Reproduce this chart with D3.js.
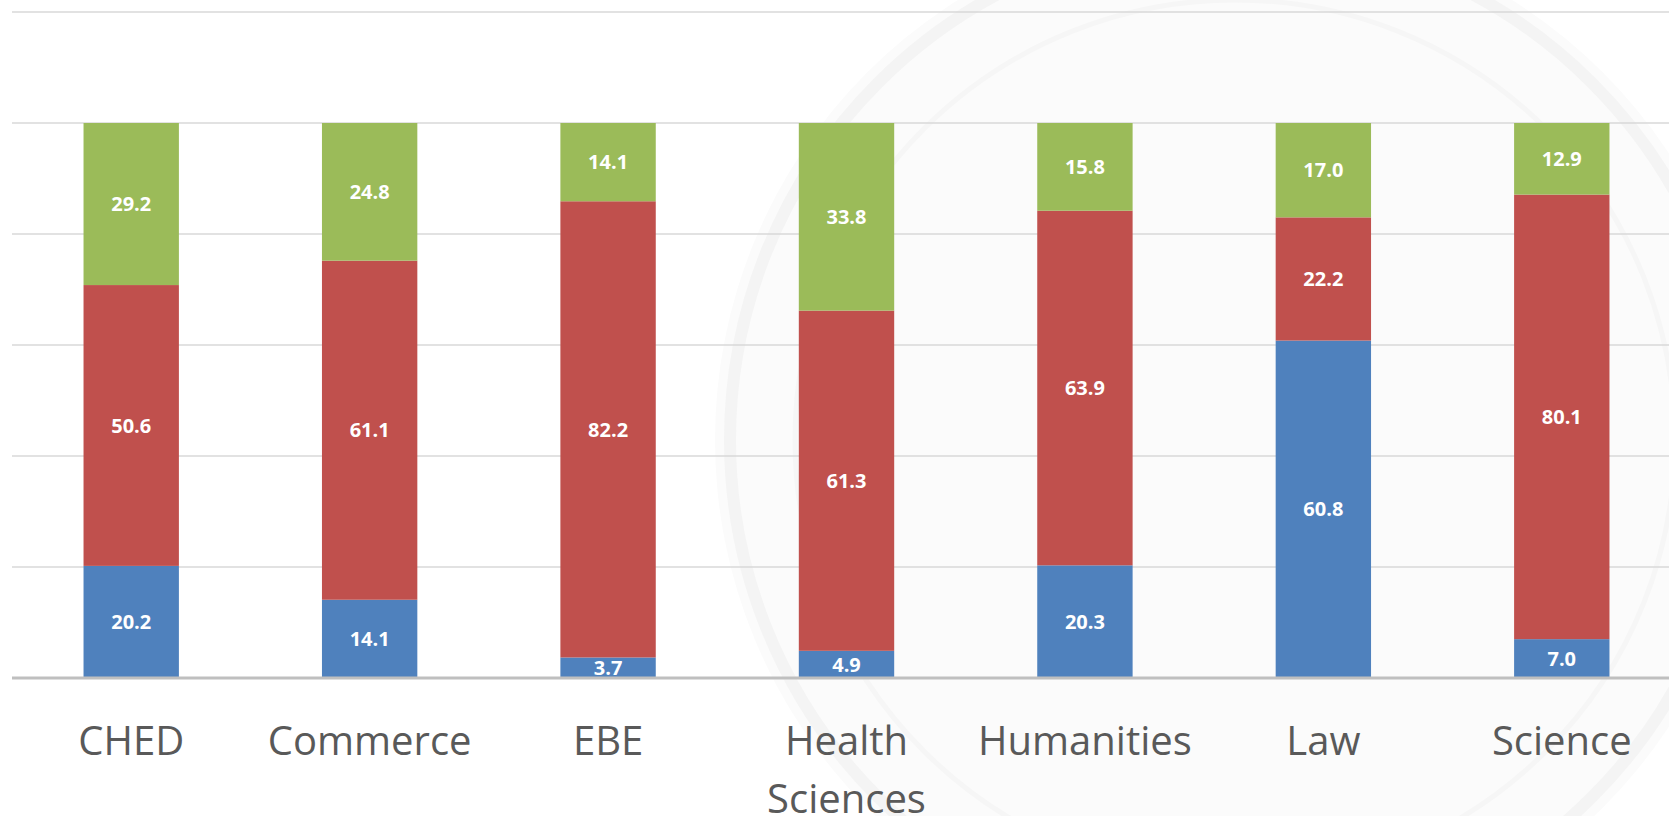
<!DOCTYPE html>
<html>
<head>
<meta charset="utf-8">
<script src="https://cdn.jsdelivr.net/npm/d3@7"></script>
<style>
  html, body { margin: 0; padding: 0; background: #fff; overflow: hidden; }
  svg { display: block; }
</style>
</head>
<body>
<div id="app"></div>
<script>
const faculties = ['CHED', 'Commerce', 'EBE', 'Health Sciences', 'Humanities', 'Law', 'Science']
const blueVals  = [20.2, 14.1, 3.7, 4.9, 20.3, 60.8, 7.0]
const redVals   = [50.6, 61.1, 82.2, 61.3, 63.9, 22.2, 80.1]
const greenVals = [29.2, 24.8, 14.1, 33.8, 15.8, 17.0, 12.9]
const gridTicks = [0, 20, 40, 60, 80, 100, 120]

const width = 1669, height = 816
const colors = ['#4f81bd', '#c0504d', '#9bbb59']

const svg = d3.select('#app').append('svg')
  .attr('width', width).attr('height', height)

// faint seal watermark behind the chart
const wm = svg.append('g').attr('transform', 'translate(1235,440)')
wm.append('circle').attr('r', 520).attr('fill', '#fbfbfb')
wm.append('circle').attr('r', 505).attr('fill', 'none').attr('stroke', '#f4f4f4').attr('stroke-width', 12)
wm.append('circle').attr('r', 440).attr('fill', 'none').attr('stroke', '#f6f6f6').attr('stroke-width', 5)

const rows = faculties.map((f, i) => ({ name: f, blue: blueVals[i], red: redVals[i], green: greenVals[i] }))
const stack = d3.stack().keys(['blue', 'red', 'green'])(rows)

const x = d3.scaleBand().domain(faculties).range([12, 1681]).paddingInner(0.6).paddingOuter(0.3)
const y = d3.scaleLinear().domain([0, 120]).range([678, 12])

// gridlines
svg.append('g').selectAll('line').data(gridTicks.slice(1)).join('line')
  .attr('x1', 12).attr('x2', width)
  .attr('y1', d => y(d)).attr('y2', d => y(d))
  .attr('stroke', '#d9d9d9').attr('stroke-width', 1.5)

// bars
const layers = svg.append('g').selectAll('g').data(stack).join('g')
  .attr('fill', (d, i) => colors[i])
layers.selectAll('rect').data(d => d).join('rect')
  .attr('x', d => x(d.data.name))
  .attr('width', x.bandwidth())
  .attr('y', d => y(d[1]))
  .attr('height', d => y(d[0]) - y(d[1]))

// value labels
layers.selectAll('text').data(d => d.map(v => ({ v, key: d.key }))).join('text')
  .attr('x', d => x(d.v.data.name) + x.bandwidth() / 2)
  .attr('y', d => (y(d.v[0]) + y(d.v[1])) / 2)
  .attr('dy', '0.36em')
  .attr('text-anchor', 'middle')
  .attr('font-family', 'Open Sans')
  .attr('font-weight', 'bold')
  .attr('font-size', 20)
  .attr('fill', '#fff')
  .text(d => d.v.data[d.key].toFixed(1))

// axis line
svg.append('line')
  .attr('x1', 12).attr('x2', width)
  .attr('y1', y(0)).attr('y2', y(0))
  .attr('stroke', '#bfbfbf').attr('stroke-width', 3)

// category labels
const labels = svg.append('g').selectAll('text').data(faculties).join('text')
  .attr('x', d => x(d) + x.bandwidth() / 2)
  .attr('y', 755)
  .attr('text-anchor', 'middle')
  .attr('font-family', 'Open Sans')
  .attr('font-size', 40)
  .attr('fill', '#595959')
labels.each(function(d) {
  const parts = d === 'Health Sciences' ? ['Health', 'Sciences'] : [d]
  d3.select(this).selectAll('tspan').data(parts).join('tspan')
    .attr('x', x(d) + x.bandwidth() / 2)
    .attr('dy', (p, i) => i ? 58 : 0)
    .text(p => p)
})
</script>
</body>
</html>
